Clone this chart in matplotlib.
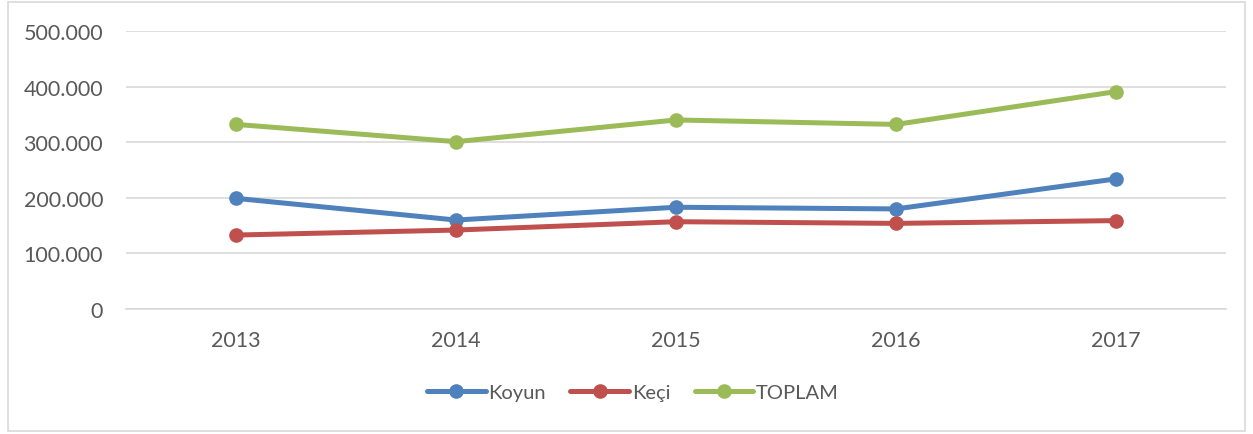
import matplotlib.pyplot as plt
from matplotlib.patches import Rectangle
from matplotlib.ticker import FuncFormatter

# Data
years = ['2013', '2014', '2015', '2016', '2017']
koyun = [199000, 160000, 183000, 180000, 234000]
keci = [133000, 142000, 157000, 154000, 159000]
toplam = [332000, 301000, 340000, 332000, 391000]

colors = {'Koyun': '#4f81bd', 'Keçi': '#c0504d', 'TOPLAM': '#9bbb59'}
text_color = '#595959'

plt.rcParams['font.family'] = ['Lato', 'DejaVu Sans']

fig = plt.figure(figsize=(12.53, 4.35), dpi=100)
ax = fig.add_axes([126 / 1253, 1 - 310 / 435, 1100 / 1253, 278 / 435])

# outer chart border
fig.patches.append(Rectangle((8 / 1253, 3 / 435), 1237 / 1253, 429 / 435,
                             transform=fig.transFigure, fill=False,
                             edgecolor='#d9d9d9', linewidth=1.2))

x = range(len(years))
for name, vals in [('Koyun', koyun), ('Keçi', keci), ('TOPLAM', toplam)]:
    ax.plot(x, vals, color=colors[name], linewidth=3.6, marker='o',
            markersize=9.5, label=name, solid_capstyle='round', zorder=3)

ax.set_xlim(-0.5, len(years) - 0.5)
ax.set_ylim(0, 500000)
ax.set_yticks(range(0, 500001, 100000))
ax.yaxis.set_major_formatter(FuncFormatter(lambda v, p: f'{int(v):,}'.replace(',', '.')))
ax.set_xticks(list(x))
ax.set_xticklabels(years)
ax.grid(axis='y', color='#d9d9d9', linewidth=1.2)
ax.set_axisbelow(True)
for s in ['top', 'right', 'left']:
    ax.spines[s].set_visible(False)
ax.spines['bottom'].set_color('#d9d9d9')
ax.spines['bottom'].set_linewidth(1.2)
ax.tick_params(length=0, labelsize=15.5, colors=text_color)
ax.tick_params(axis='y', pad=16.5)
ax.tick_params(axis='x', pad=15)

leg = fig.legend(loc='center', bbox_to_anchor=(633 / 1253, 1 - 393 / 435), ncol=3,
                 frameon=False, fontsize=14.5, handlelength=2.9, columnspacing=1.2,
                 handletextpad=0.15)
for t in leg.get_texts():
    t.set_color(text_color)

fig.savefig('out.png', dpi=100)
